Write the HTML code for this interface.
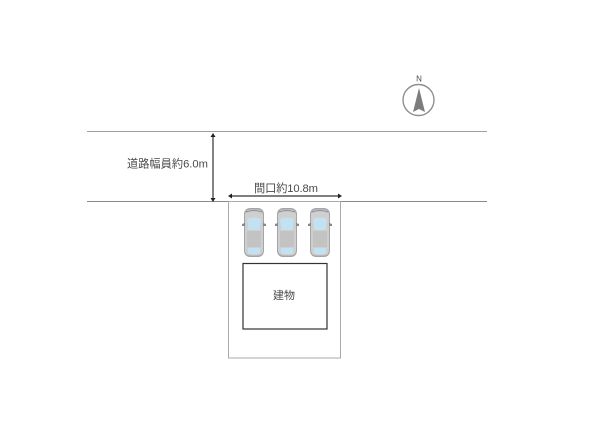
<!DOCTYPE html>
<html><head><meta charset="utf-8"><style>
html,body{margin:0;padding:0;background:#fff}
svg{display:block}
text{font-family:"Liberation Sans","Noto Sans CJK JP",sans-serif;fill:#4a4a4a}
</style></head><body>
<svg width="600" height="424" viewBox="0 0 600 424" xmlns="http://www.w3.org/2000/svg">
<defs>
<g id="car">
<rect x="-10" y="0" width="20" height="49" rx="6" ry="6" fill="#a3a5a8"/>
<rect x="-9" y="1.5" width="18" height="46" rx="5" fill="#cfcfd0"/>
<path d="M-12 16l3-1v3h-3zM12 16l-3-1v3h3z" fill="#888"/>
<path d="M-7 11Q0 8 7 11L5.5 22H-5.5Z" fill="#c3e2f1"/>
<path d="M-6 40H6L6 45Q0 47.5-6 45Z" fill="#c3e2f1"/>
<rect x="-7" y="23" width="14" height="16" fill="#c4c3c3"/>
<path d="M-8 4Q0 1 8 4" fill="none" stroke="#8f8f8f"/>
</g>
</defs>
<line x1="87" y1="131.5" x2="487" y2="131.5" stroke="#a0a0a0" stroke-width="1"/>
<line x1="87" y1="201.5" x2="487" y2="201.5" stroke="#8a8a8a" stroke-width="1"/>
<rect x="228.5" y="201.5" width="112" height="156.5" fill="#fff" stroke="#aaa" stroke-width="1"/>
<rect x="243" y="263.5" width="84" height="65.5" fill="#fff" stroke="#333" stroke-width="1.2"/>
<line x1="213" y1="136" x2="213" y2="199" stroke="#333" stroke-width="1.2"/>
<path d="M213 133l-2.5 4h5zM213 202l-2.5-4h5z" fill="#222"/>
<line x1="231" y1="196" x2="339" y2="196" stroke="#333" stroke-width="1.2"/>
<path d="M228 196l4-2.5v5zM342 196l-4-2.5v5z" fill="#222"/>
<use href="#car" x="254" y="208"/>
<use href="#car" x="287" y="208"/>
<use href="#car" x="320" y="208"/>
<text x="127" y="167.5" font-size="11.2" textLength="81">道路幅員約6.0m</text>
<text x="254" y="192" font-size="11.2" textLength="64">間口約10.8m</text>
<text x="273" y="299" font-size="11">建物</text>
<circle cx="418.5" cy="100" r="15.5" fill="#fff" stroke="#8f8f8f" stroke-width="1.4"/>
<path d="M419 88L425 112L419 109L413 112Z" fill="#7d7d7d"/>
<text x="419" y="81.5" font-size="8" text-anchor="middle">N</text>
</svg>
</body></html>
